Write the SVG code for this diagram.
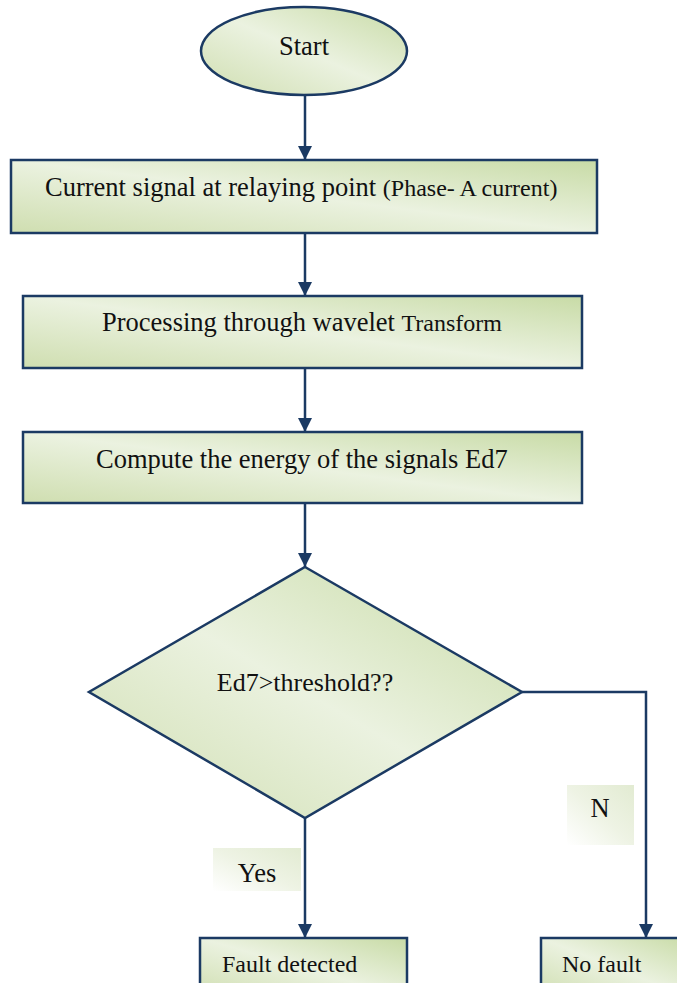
<svg xmlns="http://www.w3.org/2000/svg" width="677" height="983" viewBox="0 0 677 983">
  <defs>
    <linearGradient id="fillGreen" x1="0" y1="1" x2="1" y2="0">
      <stop offset="0" stop-color="#cfdeb0"/>
      <stop offset="0.5" stop-color="#ebf2e0"/>
      <stop offset="1" stop-color="#c8dba6"/>
    </linearGradient>
    <linearGradient id="labelGreen" x1="0" y1="1" x2="1" y2="0">
      <stop offset="0" stop-color="#ffffff"/>
      <stop offset="0.5" stop-color="#eef3e4"/>
      <stop offset="1" stop-color="#e2ebd2"/>
    </linearGradient>
    <marker id="arrow" viewBox="0 0 14 14" refX="14" refY="7" markerWidth="14" markerHeight="14" markerUnits="userSpaceOnUse" orient="auto">
      <path d="M0,0 L14,7 L0,14 Z" fill="#1b3a63"/>
    </marker>
  </defs>
  <style>
    .shape { fill: url(#fillGreen); stroke: #1b3a63; stroke-width: 2.5; }
    .label { fill: url(#labelGreen); stroke: none; }
    .wire { fill: none; stroke: #1b3a63; stroke-width: 2.5; }
    text { font-family: "Liberation Serif", "Times New Roman", serif; font-size: 24px; fill: #111; }
    .mid { text-anchor: middle; }
    .big { font-size: 26.5px; }
    .small { font-size: 24px; }
    .title { font-size: 26.5px; }
    .cond { font-size: 26px; }
    .tag { font-size: 26.5px; }
  </style>
  <rect width="677" height="983" fill="#ffffff"/>

  <g id="connectors">
    <line class="wire" x1="305" y1="96" x2="305" y2="160" marker-end="url(#arrow)"/>
    <line class="wire" x1="305" y1="233" x2="305" y2="296" marker-end="url(#arrow)"/>
    <line class="wire" x1="305" y1="368" x2="305" y2="432" marker-end="url(#arrow)"/>
    <line class="wire" x1="305" y1="503" x2="305" y2="567" marker-end="url(#arrow)"/>
    <line class="wire" x1="305" y1="818" x2="305" y2="938" marker-end="url(#arrow)"/>
    <polyline class="wire" points="522,692 646,692 646,938" marker-end="url(#arrow)"/>
  </g>

  <g id="start">
    <ellipse class="shape" cx="304" cy="51" rx="103" ry="44"/>
    <text class="mid title" x="304" y="55">Start</text>
  </g>

  <g id="current-signal">
    <rect class="shape" x="11" y="160" width="586" height="73"/>
    <text class="big" x="45" y="196">Current signal at relaying point <tspan class="small">(Phase- A current)</tspan></text>
  </g>

  <g id="wavelet">
    <rect class="shape" x="23" y="296" width="559" height="72"/>
    <text class="big" x="102" y="331">Processing through wavelet <tspan class="small">Transform</tspan></text>
  </g>

  <g id="energy">
    <rect class="shape" x="23" y="432" width="559" height="71"/>
    <text class="big" x="96" y="468">Compute the energy of the signals Ed7</text>
  </g>

  <g id="decision">
    <polygon class="shape" points="305,567 522,692 305,818 89,692"/>
    <text class="mid cond" x="305" y="691">Ed7&gt;threshold??</text>
  </g>

  <g id="label-no">
    <rect class="label" x="567" y="785" width="67" height="60"/>
    <text class="mid tag" x="600" y="817">N</text>
  </g>

  <g id="label-yes">
    <rect class="label" x="213" y="848" width="88" height="43"/>
    <text class="mid tag" x="257" y="882">Yes</text>
  </g>

  <g id="fault-detected">
    <rect class="shape" x="200" y="938" width="207" height="60"/>
    <text x="222" y="972">Fault detected</text>
  </g>

  <g id="no-fault">
    <rect class="shape" x="541" y="938" width="150" height="60"/>
    <text x="562" y="972">No fault</text>
  </g>
</svg>
